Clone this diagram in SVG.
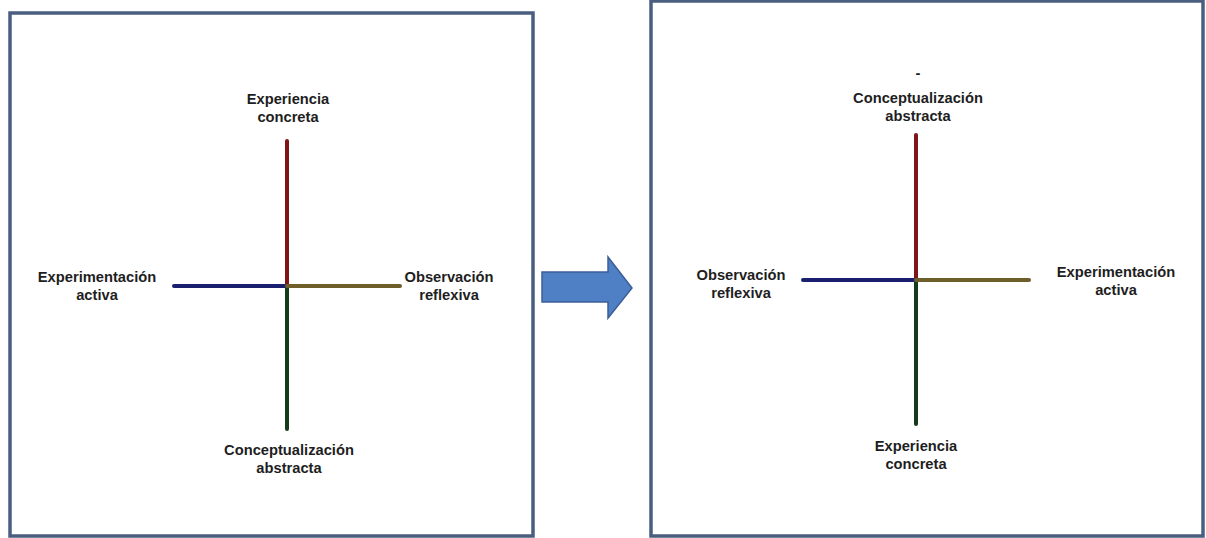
<svg xmlns="http://www.w3.org/2000/svg" width="1206" height="538" viewBox="0 0 1206 538">
<style>
.box{fill:#fff;stroke:#4a5f80;stroke-width:3.5}
.t{font-family:"Liberation Sans",Arial,sans-serif;font-weight:bold;font-size:14.7px;fill:#1e1e1e;text-anchor:middle}
.ax{stroke-width:4;stroke-linecap:round;fill:none}
.r{stroke:#7e1518}.g{stroke:#163a1c}.b{stroke:#1b1f70}.o{stroke:#6e5e2a}
</style>
<rect width="1206" height="538" fill="#fff"/>
<rect class="box" x="10" y="13" width="523" height="523"/>
<rect class="box" x="651" y="1" width="552" height="535"/>
<g id="connectors">
<line class="ax r" x1="287" y1="141" x2="287" y2="286"/>
<line class="ax g" x1="287" y1="286" x2="287" y2="429"/>
<line class="ax b" x1="174" y1="286" x2="287" y2="286"/>
<line class="ax o" x1="287" y1="286" x2="400" y2="286"/>
<line class="ax r" x1="916" y1="135" x2="916" y2="280"/>
<line class="ax g" x1="916" y1="280" x2="916" y2="424"/>
<line class="ax b" x1="803" y1="280" x2="916" y2="280"/>
<line class="ax o" x1="916" y1="280" x2="1029" y2="280"/>
</g>
<g id="arrow"><polygon points="542,272 608,272 608,257 632,288 608,318 608,302 542,302" fill="#4f7fc4" stroke="#3a5f98" stroke-width="1.5"/></g>
<g id="l-top"><text class="t" x="288" y="104">Experiencia</text><text class="t" x="288" y="122">concreta</text></g>
<g id="l-left"><text class="t" x="97" y="282">Experimentación</text><text class="t" x="97" y="300">activa</text></g>
<g id="l-right"><text class="t" x="449" y="282">Observación</text><text class="t" x="449" y="300">reflexiva</text></g>
<g id="l-bottom"><text class="t" x="289" y="455">Conceptualización</text><text class="t" x="289" y="473">abstracta</text></g>
<g id="r-top"><text class="t" x="918" y="78">-</text><text class="t" x="918" y="103">Conceptualización</text><text class="t" x="918" y="121">abstracta</text></g>
<g id="r-left"><text class="t" x="741" y="280">Observación</text><text class="t" x="741" y="298">reflexiva</text></g>
<g id="r-right"><text class="t" x="1116" y="277">Experimentación</text><text class="t" x="1116" y="295">activa</text></g>
<g id="r-bottom"><text class="t" x="916" y="451">Experiencia</text><text class="t" x="916" y="469">concreta</text></g>
</svg>
